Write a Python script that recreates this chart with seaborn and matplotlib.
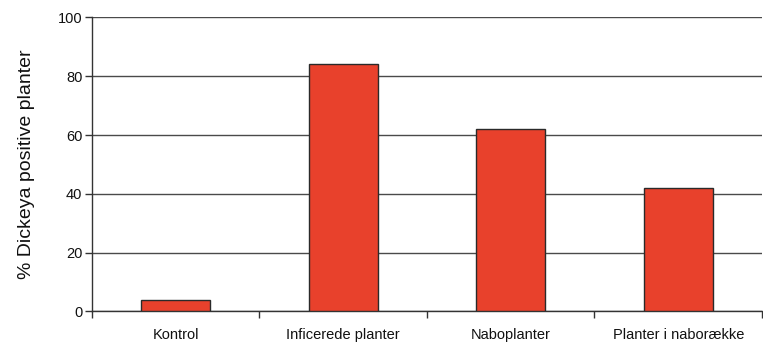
import matplotlib
matplotlib.use("Agg")
import matplotlib.pyplot as plt
import seaborn as sns
import pandas as pd
import numpy as np

# Share of plants testing positive for Dickeya, by group
categories = ["Kontrol", "Inficerede planter", "Naboplanter", "Planter i naborække"]
percent_positive = [4, 84, 62, 42]
y_ticks = [0, 20, 40, 60, 80, 100]

sns.set_theme(style="white")
plt.rcParams["font.family"] = ["Liberation Sans", "DejaVu Sans"]

df = pd.DataFrame({"gruppe": categories, "pct": percent_positive})

fig = plt.figure(figsize=(7.63, 3.48), dpi=100)
ax = fig.add_axes([0.1206, 0.105, 0.878, 0.845])

sns.barplot(data=df, x="gruppe", y="pct", color="#E8412C", saturation=1,
            width=0.41, edgecolor="#2a2a2a", linewidth=1.0, ax=ax, zorder=3)

ax.set_xlim(-0.5, len(categories) - 0.5)
ax.set_ylim(0, 100)
ax.set_yticks(y_ticks)
ax.yaxis.grid(True, color="#4a4a4a", linewidth=1.0, zorder=0)
ax.set_axisbelow(True)

# Category boundary ticks on the x axis, labels centred under the bars
ax.set_xticks(np.arange(-0.5, len(categories), 1.0), minor=True)
ax.tick_params(axis="x", which="minor", length=5, width=1, color="#333333",
               direction="out", bottom=True)
ax.tick_params(axis="x", which="major", length=0, pad=12, labelsize=10.5,
               labelcolor="#111111")
ax.tick_params(axis="y", which="major", length=5, width=1, color="#333333",
               direction="out", left=True, labelsize=10.5, labelcolor="#111111",
               pad=2)

for side in ("top", "right"):
    ax.spines[side].set_visible(False)
for side in ("left", "bottom"):
    ax.spines[side].set_color("#333333")
    ax.spines[side].set_linewidth(1.0)

ax.set_xlabel("")
ax.set_ylabel("% Dickeya positive planter", fontsize=14, color="#111111",
              labelpad=16)

fig.savefig("out.png", dpi=100, facecolor="white")
